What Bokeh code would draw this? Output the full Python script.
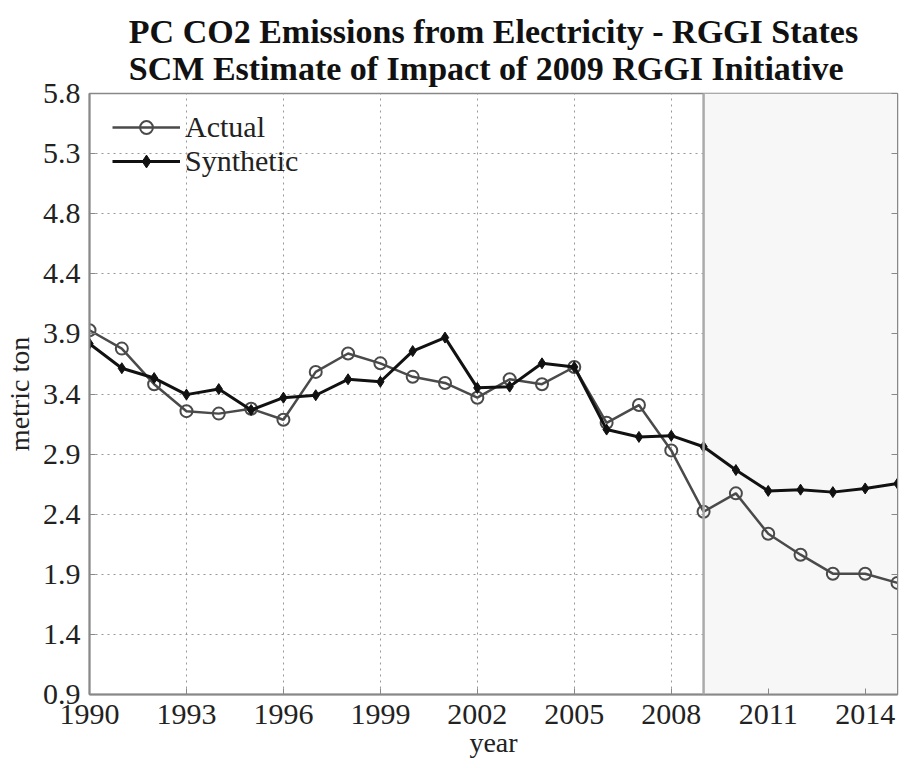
from bokeh.plotting import figure
from bokeh.models import (FixedTicker, BoxAnnotation, Span, Title, Legend, LegendItem,
                          LinearAxis, ColumnDataSource)
from bokeh.embed import file_html
from bokeh.resources import INLINE

years = list(range(1990, 2016))
actual = [3.87, 3.72, 3.43, 3.21, 3.19, 3.23, 3.14, 3.53, 3.68, 3.60, 3.49, 3.44, 3.32,
          3.47, 3.43, 3.57, 3.115, 3.26, 2.89, 2.39, 2.54, 2.21, 2.04, 1.885, 1.885, 1.81]
synthetic = [3.76, 3.56, 3.48, 3.345, 3.39, 3.22, 3.32, 3.34, 3.47, 3.45, 3.70, 3.81, 3.40,
             3.41, 3.60, 3.57, 3.06, 3.00, 3.01, 2.92, 2.73, 2.56, 2.57, 2.55, 2.58, 2.62]
x_ticks = [1990, 1993, 1996, 1999, 2002, 2005, 2008, 2011, 2014]
y_ticks = [0.9, 1.39, 1.88, 2.37, 2.86, 3.35, 3.84, 4.33, 4.82, 5.31, 5.8]
y_tick_labels = ["0.9", "1.4", "1.9", "2.4", "2.9", "3.4", "3.9", "4.4", "4.8", "5.3", "5.8"]
treatment_year = 2009
title_lines = ["PC CO2 Emissions from Electricity - RGGI States",
               "SCM Estimate of Impact of 2009 RGGI Initiative"]

FONT = "Liberation Serif"

p = figure(width=899, height=760, output_backend="svg", toolbar_location=None,
           x_range=(1990, 2015), y_range=(0.9, 5.8),
           min_border_left=87, min_border_right=2, min_border_top=93, min_border_bottom=66,
           title=None)

t = Title(text="\n".join(title_lines), align="center", text_font=FONT, text_font_size="34px",
          text_font_style="bold", text_color="#111111", text_line_height=1.0,
          standoff=14)
p.add_layout(t, "above")

p.add_layout(BoxAnnotation(left=treatment_year, fill_color="#f7f7f7", fill_alpha=1.0, level="underlay"))
p.add_layout(Span(location=treatment_year, dimension="height", line_color="#aaaaaa", line_width=2.5))

src = ColumnDataSource(dict(x=years, a=actual, s=synthetic))
la = p.line("x", "a", source=src, line_color="#4a4a4a", line_width=2.5)
ma = p.scatter("x", "a", source=src, marker="circle", size=12, fill_color=None,
               line_color="#4a4a4a", line_width=2)
ls = p.line("x", "s", source=src, line_color="#111111", line_width=3)
ms = p.scatter("x", "s", source=src, marker="diamond", size=11, fill_color="#111111",
               line_color="#111111")

legend = Legend(items=[LegendItem(label="Actual", renderers=[la, ma]),
                       LegendItem(label="Synthetic", renderers=[ls, ms])],
                location=(23, 516), border_line_color=None, background_fill_alpha=0,
                label_text_font=FONT, label_text_font_size="30px", label_text_color="#222222",
                glyph_width=68, glyph_height=32, spacing=0, padding=0, margin=0,
                label_standoff=5, label_height=32)
p.add_layout(legend, "center")

p.xaxis.ticker = FixedTicker(ticks=x_ticks)
p.yaxis.ticker = FixedTicker(ticks=y_ticks)
p.yaxis.major_label_overrides = {v: l for v, l in zip(y_ticks, y_tick_labels)}
p.xaxis.axis_label = "year"
p.yaxis.axis_label = "metric ton"

for ax in [p.xaxis[0], p.yaxis[0]]:
    ax.axis_label_text_font = FONT
    ax.axis_label_text_font_style = "normal"
    ax.axis_label_text_font_size = "28px"
    ax.axis_label_text_color = "#222222"
    ax.major_label_text_font = FONT
    ax.major_label_text_font_size = "30px"
    ax.major_label_text_color = "#222222"
    ax.axis_line_color = "#888888"
    ax.axis_line_width = 2
    ax.major_tick_in = 6
    ax.major_tick_out = 0
    ax.major_tick_line_color = "#888888"
    ax.minor_tick_line_color = None

p.xaxis.major_label_standoff = 10
p.xaxis.axis_label_standoff = 0
p.yaxis.major_label_standoff = 9
p.yaxis.axis_label_standoff = 5

# right axis ticks (box)
ra = LinearAxis(ticker=FixedTicker(ticks=y_ticks), major_label_text_font_size="0px",
                axis_line_color="#888888", major_tick_in=6, major_tick_out=0,
                major_tick_line_color="#888888", minor_tick_line_color=None,
                major_label_standoff=0)
p.add_layout(ra, "right")

p.outline_line_color = "#888888"
p.outline_line_width = 1.5

p.xgrid.grid_line_color = "#999999"
p.xgrid.grid_line_dash = "2 4"
p.ygrid.grid_line_color = "#999999"
p.ygrid.grid_line_dash = "2 4"
p.background_fill_color = "white"
p.border_fill_color = "white"

open("out.html", "w").write(file_html(p, INLINE))
